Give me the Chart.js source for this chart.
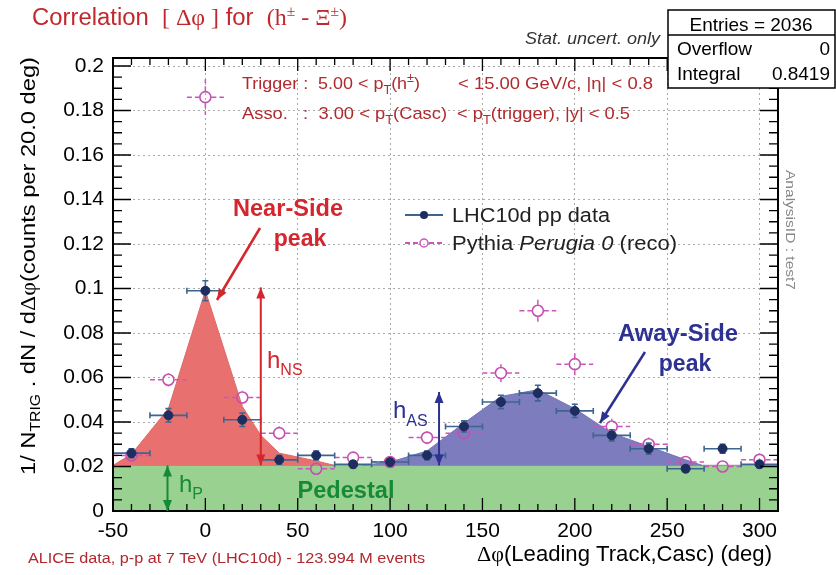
<!DOCTYPE html>
<html>
<head>
<meta charset="utf-8">
<script src="https://cdn.jsdelivr.net/npm/chart.js@4.4.1/dist/chart.umd.min.js"></script>
<style>
  html, body { margin: 0; padding: 0; background: #fff; }
  canvas { display: block; }
</style>
</head>
<body>
<canvas id="corrChart" width="836" height="575" style="width:836px;height:575px"></canvas>
<script>
// Correlation dphi (h - Xi) : LHC10d data vs Pythia Perugia 0, bins of 20 deg

const dphi = [-40, -20, 0, 20, 40, 60, 80, 100, 120, 140, 160, 180, 200, 220, 240, 260, 280, 300];
const dataY = [0.026, 0.043, 0.099, 0.041, 0.023, 0.025, 0.021, 0.022, 0.025, 0.038, 0.049, 0.053, 0.045, 0.034, 0.028, 0.019, 0.028, 0.021];
const dataErr = [0.002, 0.003, 0.0045, 0.003, 0.002, 0.002, 0.0015, 0.0015, 0.002, 0.0025, 0.003, 0.0035, 0.003, 0.0025, 0.0025, 0.0015, 0.002, 0.0015];
const pythiaY = [0.025, 0.059, 0.186, 0.051, 0.035, 0.019, 0.024, 0.022, 0.033, 0.035, 0.062, 0.090, 0.066, 0.038, 0.030, 0.022, 0.020, 0.023];
const pythiaErr = [0.002, 0.003, 0.008, 0.003, 0.003, 0.002, 0.002, 0.002, 0.003, 0.003, 0.004, 0.006, 0.0055, 0.0035, 0.003, 0.002, 0.002, 0.002];
const binHalf = 10;

// pedestal + peak shapes
const pedestal = 0.0205;
const pedestalX = [-50, 310];
const nearSideX = [-50, -40, -20, 0, 20, 30, 40, 60, 70];
const nearSideY = [0.0205, 0.0255, 0.046, 0.099, 0.047, 0.034, 0.026, 0.0225, 0.0205];
const awaySideX = [85, 100, 120, 140, 160, 180, 200, 220, 240, 260, 269];
const awaySideY = [0.0205, 0.022, 0.027, 0.0395, 0.0515, 0.0545, 0.046, 0.035, 0.029, 0.023, 0.0205];

// axes
const xMin = -50, xMax = 310;
const yMin = 0, yMax = 0.2036;
const xTicks = [-50, 0, 50, 100, 150, 200, 250, 300];
const yTicks = [0, 0.02, 0.04, 0.06, 0.08, 0.1, 0.12, 0.14, 0.16, 0.18, 0.2];
const yTickLabels = ["0", "0.02", "0.04", "0.06", "0.08", "0.1", "0.12", "0.14", "0.16", "0.18", "0.2"];

const SANS = "'Liberation Sans', Arial, sans-serif";
const SERIF = "'Liberation Serif', 'DejaVu Serif', serif";
const f = (size, style) => (style ? style + " " : "") + size + "px " + SANS;
const fs = (size) => size + "px " + SERIF;

Chart.defaults.font.family = SANS;

// texte composé (indices, polices mélangées), largeur cible optionnelle
function richText(ctx, x, y, parts, opts = {}) {
  ctx.save();
  let total = 0;
  const widths = parts.map(p => {
    ctx.font = p[1];
    const w = ctx.measureText(p[0]).width;
    total += w;
    return w;
  });
  const sx = opts.width ? opts.width / total : 1;
  const w = total * sx;
  let start = x;
  if (opts.align === "center") start = x - w / 2;
  if (opts.align === "right") start = x - w;
  ctx.translate(start, y);
  ctx.scale(sx, 1);
  ctx.fillStyle = opts.color || "#000";
  ctx.textBaseline = opts.baseline || "alphabetic";
  ctx.textAlign = "left";
  let cx = 0;
  parts.forEach((p, i) => {
    ctx.font = p[1];
    ctx.fillText(p[0], cx, p[2] || 0);
    cx += widths[i];
  });
  ctx.restore();
}

function arrow(ctx, x1, y1, x2, y2, color, lw, both) {
  const head = 11, half = 4.5;
  ctx.save();
  ctx.strokeStyle = color;
  ctx.fillStyle = color;
  ctx.lineWidth = lw;
  ctx.beginPath();
  ctx.moveTo(x1, y1);
  ctx.lineTo(x2, y2);
  ctx.stroke();
  const tip = (x, y, a) => {
    const c = Math.cos(a), s = Math.sin(a);
    ctx.beginPath();
    ctx.moveTo(x, y);
    ctx.lineTo(x - head * c + half * s, y - head * s - half * c);
    ctx.lineTo(x - head * c - half * s, y - head * s + half * c);
    ctx.closePath();
    ctx.fill();
  };
  const ang = Math.atan2(y2 - y1, x2 - x1);
  tip(x2, y2, ang);
  if (both) tip(x1, y1, ang + Math.PI);
  ctx.restore();
}

// barres d'erreur style ROOT, dessinées sous les marqueurs
const errorBars = {
  id: "errorBars",
  beforeDatasetDraw(chart, args) {
    const ds = chart.data.datasets[args.index];
    if (!ds.errY) return;
    const { ctx, scales: { x, y } } = chart;
    const gap = ds.errGap;
    ctx.save();
    ctx.strokeStyle = ds.errColor;
    ctx.lineWidth = ds.errWidth;
    ctx.setLineDash(ds.errDash || []);
    ctx.beginPath();
    ds.data.forEach((p, i) => {
      const px = x.getPixelForValue(p.x), py = y.getPixelForValue(p.y);
      const xl = x.getPixelForValue(p.x - binHalf), xr = x.getPixelForValue(p.x + binHalf);
      const yl = y.getPixelForValue(p.y - ds.errY[i]), yh = y.getPixelForValue(p.y + ds.errY[i]);
      ctx.moveTo(xl, py); ctx.lineTo(px - gap, py);
      ctx.moveTo(px + gap, py); ctx.lineTo(xr, py);
      if (yl - py > gap) {
        ctx.moveTo(px, py + gap); ctx.lineTo(px, yl);
        ctx.moveTo(px, py - gap); ctx.lineTo(px, yh);
      }
      if (ds.errCap) {
        ctx.moveTo(xl, py - 3); ctx.lineTo(xl, py + 3);
        ctx.moveTo(xr, py - 3); ctx.lineTo(xr, py + 3);
        ctx.moveTo(px - 3, yl); ctx.lineTo(px + 3, yl);
        ctx.moveTo(px - 3, yh); ctx.lineTo(px + 3, yh);
      }
    });
    ctx.stroke();
    ctx.restore();
  }
};

// cadre + graduations intérieures sur les 4 côtés
const frameTicks = {
  id: "frameTicks",
  afterDatasetsDraw(chart) {
    const { ctx, chartArea: a, scales: { x, y } } = chart;
    ctx.save();
    ctx.strokeStyle = "#000";
    ctx.lineWidth = 1.3;
    ctx.beginPath();
    for (let v = xMin + 10; v < xMax; v += 10) {
      const px = x.getPixelForValue(v);
      const len = v % 50 === 0 ? 13 : 7;
      ctx.moveTo(px, a.bottom); ctx.lineTo(px, a.bottom - len);
      ctx.moveTo(px, a.top); ctx.lineTo(px, a.top + len);
    }
    for (let i = 1; i * 0.005 < yMax; i++) {
      const py = y.getPixelForValue(i * 0.005);
      const len = i % 4 === 0 ? 18 : 9;
      ctx.moveTo(a.left, py); ctx.lineTo(a.left + len, py);
      ctx.moveTo(a.right, py); ctx.lineTo(a.right - len, py);
    }
    ctx.stroke();
    ctx.lineWidth = 2;
    ctx.strokeRect(a.left, a.top, a.right - a.left, a.bottom - a.top);
    ctx.restore();
  }
};

// annotations, légende, textes, boîte de stats
const decorations = {
  id: "decorations",
  afterDraw(chart) {
    const { ctx, scales: { x, y } } = chart;
    const red = "#d5262d", blue = "#2d3192", green = "#178a3a";

    // flèches h_NS, h_AS, h_P
    arrow(ctx, x.getPixelForValue(30), y.getPixelForValue(0.1005), x.getPixelForValue(30), y.getPixelForValue(pedestal), red, 2, true);
    arrow(ctx, x.getPixelForValue(126.5), y.getPixelForValue(0.0535), x.getPixelForValue(126.5), y.getPixelForValue(pedestal), blue, 2, true);
    arrow(ctx, x.getPixelForValue(-20.5), y.getPixelForValue(pedestal), x.getPixelForValue(-20.5), y.getPixelForValue(0), green, 2, true);

    richText(ctx, 267, 368, [["h", f(24)], ["NS", f(16), 7]], { color: red });
    richText(ctx, 393, 418, [["h", f(24)], ["AS", f(16), 8]], { color: blue });
    richText(ctx, 179, 492, [["h", f(24)], ["P", f(16), 7]], { color: green });

    // peaks
    richText(ctx, 288, 216, [["Near-Side", f(23, "bold")]], { color: red, align: "center", width: 110 });
    richText(ctx, 300, 246, [["peak", f(23, "bold")]], { color: red, align: "center" });
    arrow(ctx, 260, 228, 217, 300, red, 2.5, false);

    richText(ctx, 678, 341, [["Away-Side", f(23, "bold")]], { color: blue, align: "center", width: 120 });
    richText(ctx, 685, 371, [["peak", f(23, "bold")]], { color: blue, align: "center" });
    arrow(ctx, 645, 352, 600, 423, blue, 2.5, false);

    richText(ctx, 346, 498, [["Pedestal", f(23, "bold")]], { color: green, align: "center", width: 97 });

    // légende
    ctx.save();
    ctx.lineWidth = 1.8;
    ctx.strokeStyle = "#3c6690";
    ctx.beginPath(); ctx.moveTo(405, 215); ctx.lineTo(443, 215); ctx.stroke();
    ctx.fillStyle = "#1e2d5f";
    ctx.beginPath(); ctx.arc(424, 215, 4, 0, Math.PI * 2); ctx.fill();
    ctx.strokeStyle = "#cc55bb";
    ctx.setLineDash([5, 3]);
    ctx.beginPath(); ctx.moveTo(405, 243); ctx.lineTo(419, 243); ctx.moveTo(429, 243); ctx.lineTo(443, 243); ctx.stroke();
    ctx.setLineDash([]);
    ctx.lineWidth = 1.5;
    ctx.beginPath(); ctx.arc(424, 243, 4, 0, Math.PI * 2); ctx.stroke();
    ctx.restore();
    richText(ctx, 452, 222, [["LHC10d pp data", f(20)]], { color: "#222", width: 158 });
    richText(ctx, 452, 250, [["Pythia ", f(20)], ["Perugia 0", f(20, "italic")], [" (reco)", f(20)]], { color: "#222", width: 225 });

    // sélections
    const dr = "#b02a2d";
    richText(ctx, 242, 89, [["Trigger :  5.00 < p", f(17)], ["T", f(12), 5], ["(h", f(17)], ["\u00b1", f(12), -7], [")", f(17)]], { color: dr, width: 178 });
    richText(ctx, 458, 89, [["< 15.00 GeV/c, |\u03b7| < 0.8", f(17)]], { color: dr, width: 195 });
    richText(ctx, 242, 119, [["Asso.   :  3.00 < p", f(17)], ["T", f(12), 5], ["(Casc)", f(17)]], { color: dr, width: 205 });
    richText(ctx, 457, 119, [["< p", f(17)], ["T", f(12), 5], ["(trigger), |y| < 0.5", f(17)]], { color: dr, width: 173 });

    // titre
    richText(ctx, 32, 25, [
      ["Correlation  ", f(23)], ["[ \u0394\u03c6 ]", fs(23)], [" for  ", f(23)],
      ["(h", fs(23)], ["\u00b1", fs(15), -9], [" - \u039e", fs(23)], ["\u00b1", fs(15), -9], [")", fs(23)]
    ], { color: "#c0282d", width: 315 });

    richText(ctx, 660, 44, [["Stat. uncert. only", f(16, "italic")]], { color: "#333", align: "right", width: 135 });

    // titre axe Y
    ctx.save();
    ctx.translate(35, 475);
    ctx.rotate(-Math.PI / 2);
    richText(ctx, 0, 0, [
      ["1/ N", f(21)], ["TRIG", f(14), 5], [" . dN / d", f(21)], ["\u0394\u03c6", fs(21)], ["(counts per 20.0 deg)", f(21)]
    ], { color: "#000", width: 418 });
    ctx.restore();

    // titre axe X
    richText(ctx, 477, 561, [["\u0394\u03c6", fs(22)], ["(Leading Track,Casc) (deg)", f(22)]], { color: "#000", width: 295 });

    richText(ctx, 28, 563, [["ALICE data, p-p at 7 TeV (LHC10d) - 123.994 M events", f(14)]], { color: "#b0282d", width: 397 });

    // AnalysisID
    ctx.save();
    ctx.translate(790, 170);
    ctx.rotate(Math.PI / 2);
    richText(ctx, 0, 0, [["AnalysisID : test7", f(13)]], { color: "#888", baseline: "middle", width: 120 });
    ctx.restore();

    // boîte de stats
    ctx.save();
    ctx.fillStyle = "#fff";
    ctx.fillRect(668, 10, 167, 78);
    ctx.strokeStyle = "#000";
    ctx.lineWidth = 1.5;
    ctx.strokeRect(668, 10, 167, 78);
    ctx.beginPath(); ctx.moveTo(668, 35); ctx.lineTo(835, 35); ctx.stroke();
    ctx.restore();
    richText(ctx, 751, 31, [["Entries = 2036", f(19)]], { align: "center" });
    richText(ctx, 677, 55, [["Overflow", f(19)]]);
    richText(ctx, 830, 55, [["0", f(19)]], { align: "right" });
    richText(ctx, 677, 80, [["Integral", f(19)]]);
    richText(ctx, 830, 80, [["0.8419", f(19)]], { align: "right" });
  }
};

const ctx = document.getElementById("corrChart").getContext("2d");

const chart = new Chart(ctx, {
  type: "scatter",
  data: {
    datasets: [
      {
        label: "LHC10d pp data",
        data: dphi.map((v, i) => ({ x: v, y: dataY[i] })),
        pointRadius: 4.5,
        pointBackgroundColor: "#1e2d5f",
        pointBorderColor: "#1e2d5f",
        pointBorderWidth: 1,
        showLine: false,
        errY: dataErr,
        errColor: "#3c6690",
        errWidth: 1.6,
        errGap: 4,
        errCap: true,
        order: 1
      },
      {
        label: "Pythia Perugia 0 (reco)",
        data: dphi.map((v, i) => ({ x: v, y: pythiaY[i] })),
        pointRadius: 5.5,
        pointBackgroundColor: "rgba(0,0,0,0)",
        pointBorderColor: "#c54fb0",
        pointBorderWidth: 1.6,
        showLine: false,
        errY: pythiaErr,
        errColor: "#cc55bb",
        errWidth: 1.5,
        errDash: [5, 3],
        errGap: 6,
        order: 2
      },
      {
        label: "near-side",
        data: nearSideX.map((v, i) => ({ x: v, y: nearSideY[i] })),
        showLine: true,
        pointRadius: 0,
        borderColor: "#e06664",
        borderWidth: 1,
        backgroundColor: "#e8716f",
        fill: { value: pedestal },
        order: 3
      },
      {
        label: "away-side",
        data: awaySideX.map((v, i) => ({ x: v, y: awaySideY[i] })),
        showLine: true,
        pointRadius: 0,
        borderColor: "#7373b8",
        borderWidth: 1,
        backgroundColor: "#7c7cbe",
        fill: { value: pedestal },
        order: 3
      },
      {
        label: "pedestal",
        data: pedestalX.map(v => ({ x: v, y: pedestal })),
        showLine: true,
        pointRadius: 0,
        borderColor: "#86a982",
        borderWidth: 1.2,
        backgroundColor: "#99d290",
        fill: "origin",
        order: 4
      }
    ]
  },
  options: {
    responsive: false,
    animation: false,
    devicePixelRatio: 1,
    events: [],
    layout: { padding: { top: 58, right: 58, left: 0, bottom: 0 } },
    scales: {
      x: {
        type: "linear",
        min: xMin,
        max: xMax,
        afterBuildTicks: axis => { axis.ticks = xTicks.map(v => ({ value: v })); },
        afterFit: s => { s.height = 64; },
        ticks: { color: "#000", font: { size: 21 }, padding: 8 },
        grid: {
          drawTicks: false,
          lineWidth: 1,
          color: c => (c.tick && c.tick.value === xMin ? "rgba(0,0,0,0)" : "#aaaaaa")
        },
        border: { display: false, dash: [2, 3] }
      },
      y: {
        type: "linear",
        min: yMin,
        max: yMax,
        afterBuildTicks: axis => { axis.ticks = yTicks.map(v => ({ value: v })); },
        afterFit: s => { s.width = 113; },
        ticks: {
          color: "#000",
          font: { size: 21 },
          padding: 9,
          callback: (v, i) => yTickLabels[i]
        },
        grid: {
          drawTicks: false,
          lineWidth: 1,
          color: c => (c.tick && c.tick.value === 0 ? "rgba(0,0,0,0)" : "#aaaaaa")
        },
        border: { display: false, dash: [2, 3] }
      }
    },
    plugins: {
      legend: { display: false },
      tooltip: { enabled: false }
    }
  },
  plugins: [errorBars, frameTicks, decorations]
});
</script>
</body>
</html>
